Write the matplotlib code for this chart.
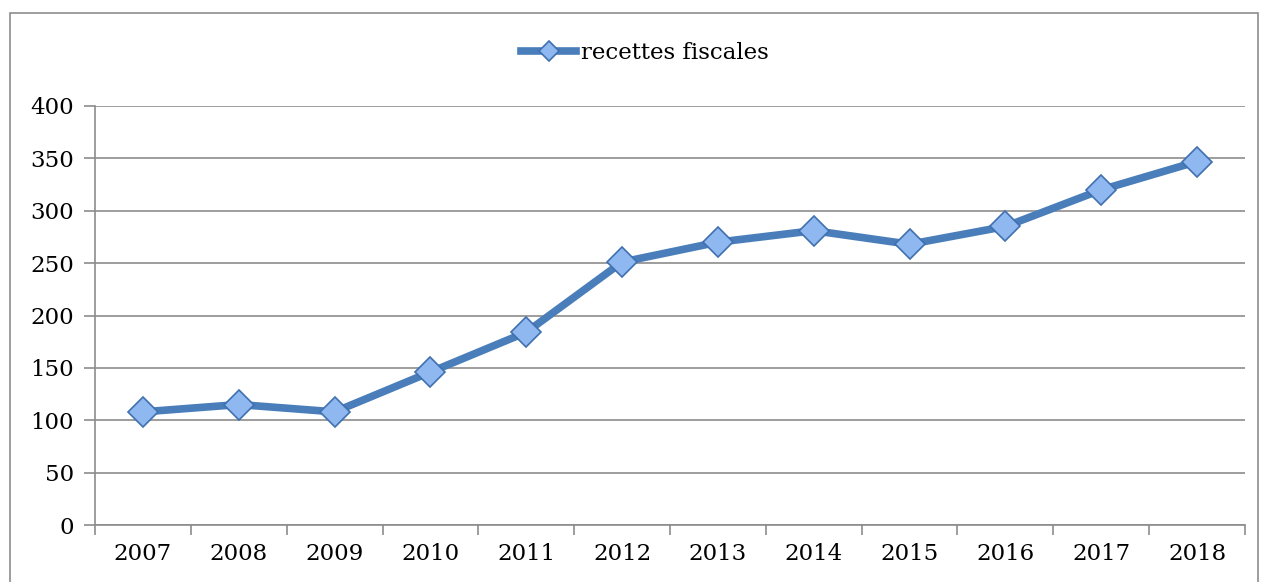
import matplotlib.pyplot as plt
from matplotlib.patches import Rectangle

years = ["2007", "2008", "2009", "2010", "2011", "2012",
         "2013", "2014", "2015", "2016", "2017", "2018"]
recettes = [108, 115, 108, 146, 184, 251, 270, 281, 268, 285, 320, 347]

plt.rcParams['font.family'] = ['DejaVu Serif']

fig = plt.figure(figsize=(12.61, 5.82), dpi=100)
ax = fig.add_axes([95 / 1261, 1 - 525 / 582, (1245 - 95) / 1261, (525 - 106) / 582])

# cadre autour du graphique
fig.patches.append(Rectangle((10 / 1261, -0.1), (1258 - 10) / 1261, 1.1 - 13 / 582,
                             transform=fig.transFigure, fill=False,
                             edgecolor='#8c8c8c', linewidth=1.2))

x = list(range(len(years)))
ax.plot(x, recettes, color='#4a7ebb', linewidth=5.5, marker='D', markersize=15,
        markerfacecolor='#8fb8f0', markeredgecolor='#3f70b0', markeredgewidth=1.2,
        label='recettes fiscales', zorder=3)

ax.set_xlim(-0.5, len(years) - 0.5)
ax.set_ylim(0, 400)
ax.set_yticks(range(0, 401, 50))
ax.set_xticks(x)
ax.set_xticklabels(years)
ax.set_xticks([i - 0.5 for i in range(len(years) + 1)], minor=True)
ax.tick_params(axis='x', which='major', length=0, pad=13, labelsize=16.5)
ax.tick_params(axis='x', which='minor', length=7, width=1.2, color='#8c8c8c', direction='out')
ax.tick_params(axis='y', length=8, width=1.2, color='#8c8c8c', pad=7, labelsize=16.5)

ax.grid(axis='y', color='#8c8c8c', linewidth=1.2)
ax.set_axisbelow(True)
for side in ['top', 'right']:
    ax.spines[side].set_visible(False)
for side in ['left', 'bottom']:
    ax.spines[side].set_color('#8c8c8c')
    ax.spines[side].set_linewidth(1.2)

ax.legend(loc='center', bbox_to_anchor=(0.478, 1 + (106 - 53) / 419), frameon=False,
          fontsize=16.5, handlelength=2.4, handletextpad=0.2, markerscale=0.7)

fig.savefig('out.png', dpi=100)
